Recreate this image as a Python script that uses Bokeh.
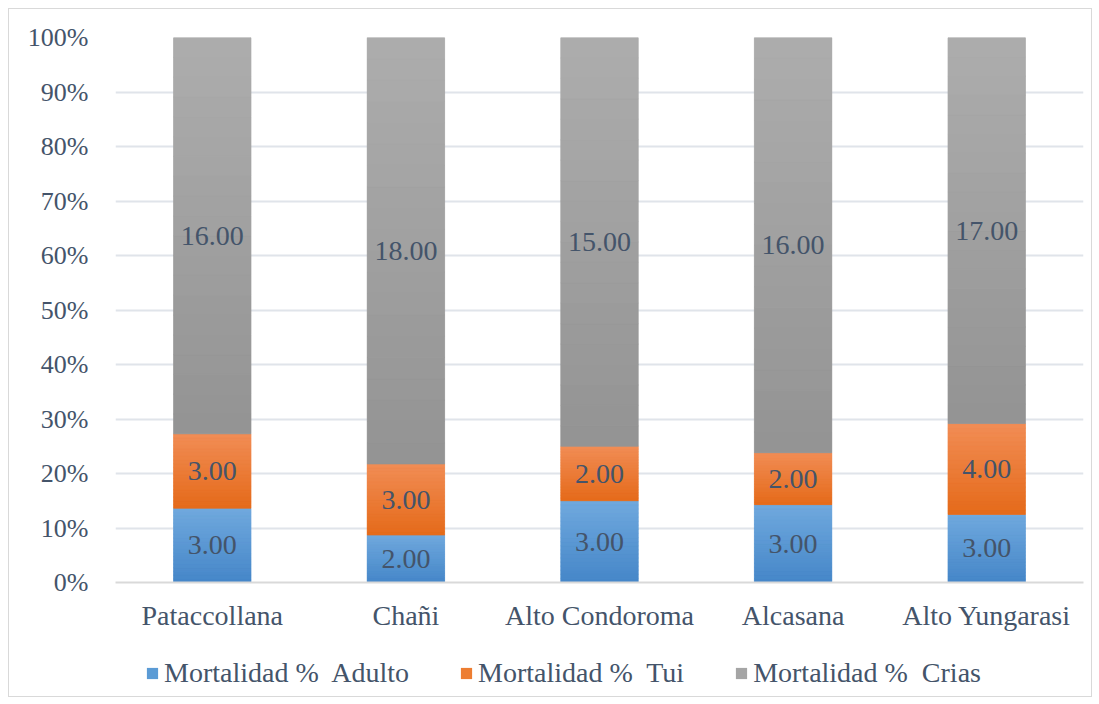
import numpy as np
from bokeh.plotting import figure
from bokeh.layouts import column
from bokeh.models import (ColumnDataSource, FactorRange, NumeralTickFormatter, Legend,
                          LegendItem, Range1d, LabelSet)
from bokeh.core.properties import value
from bokeh.embed import file_html
from bokeh.resources import INLINE

# ---- data ----
places = ["Pataccollana", "Chañi", "Alto Condoroma", "Alcasana", "Alto Yungarasi"]
adulto = [3.0, 2.0, 3.0, 3.0, 3.0]
tui = [3.0, 3.0, 2.0, 2.0, 4.0]
crias = [16.0, 18.0, 15.0, 16.0, 17.0]
series_names = ["Mortalidad %  Adulto", "Mortalidad %  Tui", "Mortalidad %  Crias"]
y_ticks = [0, 0.1, 0.2, 0.3, 0.4, 0.5, 0.6, 0.7, 0.8, 0.9, 1.0]

# gradient colours (bottom, top) per series
grad = [("#4586C8", "#70A9DE"), ("#E56A1A", "#F18D55"), ("#939393", "#ADADAD")]
mid = ["#5B9BD5", "#ED7D31", "#A5A5A5"]
TXT = "#44546A"
FONT = "Liberation Serif"

vals = np.array([adulto, tui, crias])
tot = vals.sum(axis=0)
frac = vals / tot
cum_top = np.cumsum(frac, axis=0)
cum_bot = cum_top - frac

p = figure(x_range=FactorRange(*places, range_padding=0), y_range=Range1d(0, 1),
           frame_width=968, frame_height=545, output_backend="svg", toolbar_location=None,
           min_border_left=106, min_border_right=8, min_border_top=28, min_border_bottom=60,
           outline_line_color=None)

def hex2rgb(h):
    return np.array([int(h[i:i + 2], 16) for i in (1, 3, 5)], dtype=float)

def rgb2hex(c):
    return "#%02x%02x%02x" % tuple(int(round(v)) for v in c)

N = 20
BW = 0.4
for s in range(3):
    src = ColumnDataSource(dict(x=places, top=list(cum_top[s]), bottom=list(cum_bot[s])))
    p.vbar(x="x", top="top", bottom="bottom", width=BW, source=src,
           fill_color=mid[s], line_color=None)
    c0, c1 = hex2rgb(grad[s][0]), hex2rgb(grad[s][1])
    xs, tops, bots, cols = [], [], [], []
    for j, pl in enumerate(places):
        b, t = cum_bot[s][j], cum_top[s][j]
        for i in range(N):
            xs.append(pl)
            bots.append(b + (t - b) * i / N)
            tops.append(b + (t - b) * (i + 1) / N)
            cols.append(rgb2hex(c0 + (c1 - c0) * (i + 0.5) / N))
    gsrc = ColumnDataSource(dict(x=xs, top=tops, bottom=bots, c=cols))
    p.vbar(x="x", top="top", bottom="bottom", width=BW, source=gsrc,
           fill_color="c", line_color="c", line_width=0.6)

# data labels
for s in range(3):
    lsrc = ColumnDataSource(dict(x=places, y=list((cum_top[s] + cum_bot[s]) / 2),
                                 t=["%.2f" % v for v in vals[s]]))
    p.add_layout(LabelSet(x="x", y="y", text="t", source=lsrc, text_align="center",
                          text_baseline="middle", text_font=value(FONT),
                          text_font_size="28px", text_color=TXT))

# axes
p.yaxis.ticker = y_ticks
p.yaxis.formatter = NumeralTickFormatter(format="0%")
p.yaxis.axis_line_color = None
p.yaxis.major_tick_line_color = None
p.yaxis.minor_tick_line_color = None
p.yaxis.major_label_text_font = FONT
p.yaxis.major_label_text_font_size = "26px"
p.yaxis.major_label_text_color = TXT
p.yaxis.major_label_standoff = 21

p.xaxis.axis_line_color = "#D9D9D9"
p.xaxis.axis_line_width = 2
p.xaxis.major_tick_line_color = None
p.xaxis.minor_tick_line_color = None
p.xaxis.major_label_text_font = FONT
p.xaxis.major_label_text_font_size = "28px"
p.xaxis.major_label_text_color = TXT
p.xaxis.major_label_standoff = 11

p.xgrid.grid_line_color = None
p.ygrid.grid_line_color = "#E0E4EA"
p.ygrid.grid_line_width = 2

# legend strip (its frame is aligned with the main frame by the column layout)
lf = figure(width=1082, height=54, output_backend="svg", toolbar_location=None,
            x_range=Range1d(0, 1), y_range=Range1d(0, 1),
            min_border_left=0, min_border_right=0, min_border_top=0, min_border_bottom=0,
            outline_line_color=None)
lf.axis.visible = False
lf.grid.visible = False
leg_r = []
for s in range(3):
    leg_r.append(lf.vbar(x=[np.nan], top=[np.nan], width=0.1, fill_color=mid[s], line_color=None))
legend = Legend(items=[LegendItem(label=series_names[s], renderers=[leg_r[s]]) for s in range(3)],
                orientation="horizontal", location=(30, 7),
                label_text_font=FONT, label_text_font_size="28px", label_text_color=TXT,
                glyph_width=14, glyph_height=14, label_standoff=5, spacing=50,
                padding=0, margin=0, border_line_color=None, background_fill_alpha=0)
lf.add_layout(legend, "center")

layout = column(p, lf, spacing=0, margin=(8, 0, 0, 8))
layout.styles = {"border": "1px solid #D9D9D9"}

open("out.html", "w").write(file_html(layout, INLINE))
